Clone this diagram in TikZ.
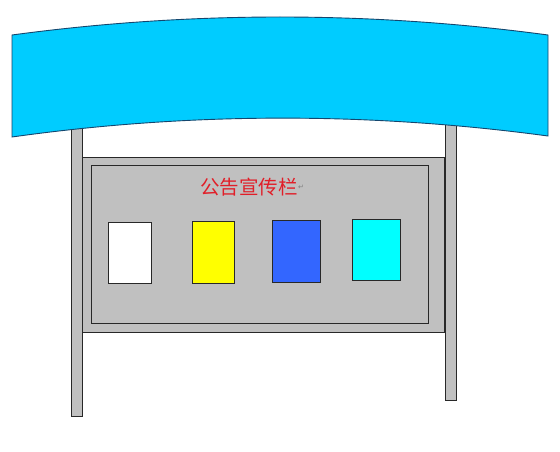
\documentclass[tikz,border=0pt]{standalone}
\usepackage{fontspec}
\newfontfamily\cjk{Noto Sans CJK SC}
\newfontfamily\symf{DejaVu Sans}
\definecolor{bannerc}{RGB}{0,204,255}
\definecolor{boardc}{RGB}{192,192,192}
\definecolor{edgec}{RGB}{40,40,40}
\definecolor{bluec}{RGB}{51,102,255}
\definecolor{cyanc}{RGB}{0,255,255}
\definecolor{yellowc}{RGB}{255,255,0}
\definecolor{redc}{RGB}{225,30,40}
\tikzset{
  part/.style={draw=edgec, line width=0.9pt},
  panel/.style={part, line width=1pt}
}
\begin{document}
\begin{tikzpicture}[x=1pt,y=-1pt]
\useasboundingbox (0,0) rectangle (560,452);
\fill[white] (0,0) rectangle (560,452);
% posts
\filldraw[part, fill=boardc] (71,120) rectangle (82,416);
\filldraw[part, fill=boardc] (445,115) rectangle (456,400);
% board
\filldraw[part, fill=boardc] (82,157) rectangle (444,332);
\filldraw[part, fill=boardc] (91,165) rectangle (428,323);
% panels
\filldraw[panel, fill=white]   (108,222) rectangle (151,283);
\filldraw[panel, fill=yellowc] (192,221) rectangle (234,283);
\filldraw[panel, fill=bluec]   (272,220) rectangle (320,282);
\filldraw[panel, fill=cyanc]   (352,219) rectangle (400,280);
% title
\node[anchor=west, inner sep=0pt, text=redc, font=\cjk\fontsize{19.5}{22}\selectfont] (title) at (200,187) {公告宣传栏};
\node[anchor=west, inner sep=0pt, text=gray, font=\symf\fontsize{7}{8}\selectfont] (mark) at (title.east) {↵};
% banner
\filldraw[part, fill=bannerc, draw={rgb,255:red,20;green,70;blue,110}]
  (12,35) .. controls (190,11) and (370,11) .. (548,35)
  -- (548,136) .. controls (370,112) and (190,112) .. (12,137) -- cycle;
\end{tikzpicture}
\end{document}
